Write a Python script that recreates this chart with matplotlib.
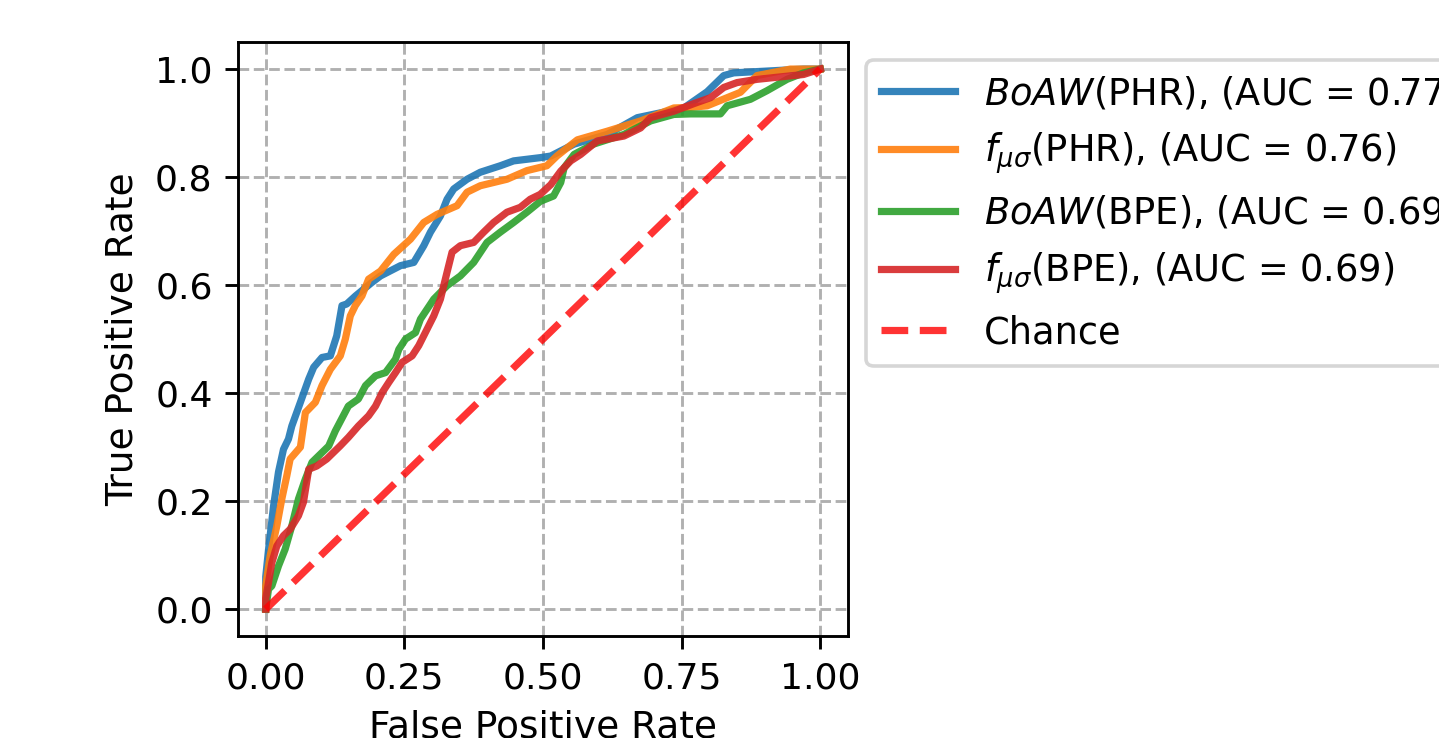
import numpy as np
import matplotlib
matplotlib.use('Agg')
import matplotlib.pyplot as plt

matplotlib.rc('font', size=10)
matplotlib.rc('axes', labelsize=10.4)
matplotlib.rc('legend', fontsize=10.2)
matplotlib.rc('lines', linewidth=2.0)

# ROC points (fpr, tpr)
boaw_phr_fpr = [0.0, 0.0, 0.005, 0.014, 0.023, 0.032, 0.041, 0.047, 0.0625, 0.0775, 0.0865, 0.1015,
                0.1165, 0.128, 0.1375, 0.146, 0.162, 0.1915, 0.207, 0.243, 0.267, 0.285, 0.297, 0.315,
                0.327, 0.339, 0.363, 0.387, 0.423, 0.447, 0.495, 0.514, 0.556, 0.616, 0.670, 0.754,
                0.796, 0.826, 0.844, 0.97, 1.0]
boaw_phr_tpr = [0.0, 0.06, 0.11, 0.19, 0.254, 0.296, 0.315, 0.339, 0.383, 0.426, 0.448, 0.466,
                0.469, 0.506, 0.562, 0.565, 0.58, 0.605, 0.617, 0.636, 0.642, 0.673, 0.698, 0.728,
                0.759, 0.778, 0.796, 0.809, 0.821, 0.830, 0.836, 0.839, 0.861, 0.879, 0.910, 0.928,
                0.958, 0.988, 0.993, 1.0, 1.0]

fmusig_phr_fpr = [0.0, 0.0, 0.008, 0.02, 0.029, 0.038, 0.044, 0.0625, 0.0715, 0.0895, 0.1015, 0.1165,
                  0.1345, 0.1435, 0.1525, 0.1615, 0.1735, 0.1855, 0.207, 0.231, 0.261, 0.285, 0.309,
                  0.345, 0.363, 0.387, 0.435, 0.471, 0.507, 0.525, 0.562, 0.616, 0.676, 0.736, 0.766,
                  0.796, 0.856, 0.886, 0.946, 1.0]
fmusig_phr_tpr = [0.0, 0.043, 0.099, 0.154, 0.204, 0.247, 0.278, 0.300, 0.364, 0.383, 0.414, 0.444,
                  0.469, 0.500, 0.543, 0.562, 0.580, 0.611, 0.626, 0.657, 0.685, 0.716, 0.731,
                  0.747, 0.772, 0.784, 0.796, 0.812, 0.821, 0.839, 0.869, 0.885, 0.904, 0.928, 0.929,
                  0.932, 0.957, 0.988, 1.0, 1.0]

boaw_bpe_fpr = [0.0, 0.005, 0.011, 0.023, 0.035, 0.047, 0.059, 0.0715, 0.0835, 0.1015, 0.1135, 0.1255,
                0.149, 0.167, 0.18, 0.198, 0.216, 0.234, 0.24, 0.252, 0.27, 0.279, 0.303, 0.327, 0.351,
                0.375, 0.399, 0.423, 0.447, 0.471, 0.495, 0.519, 0.532, 0.538, 0.556, 0.591, 0.646,
                0.694, 0.736, 0.766, 0.82, 0.832, 0.874, 0.904, 0.94, 0.97, 1.0]
boaw_bpe_tpr = [0.0, 0.037, 0.043, 0.08, 0.111, 0.154, 0.204, 0.241, 0.272, 0.29, 0.302, 0.33,
                0.376, 0.389, 0.414, 0.432, 0.438, 0.463, 0.481, 0.5, 0.512, 0.537, 0.574, 0.599, 0.617,
                0.642, 0.679, 0.698, 0.716, 0.735, 0.755, 0.765, 0.79, 0.817, 0.842, 0.861, 0.879,
                0.904, 0.916, 0.917, 0.917, 0.932, 0.944, 0.96, 0.981, 0.993, 1.0]

fmusig_bpe_fpr = [0.0, 0.0, 0.005, 0.011, 0.02, 0.032, 0.044, 0.059, 0.068, 0.0775, 0.092, 0.11,
                  0.122, 0.134, 0.149, 0.167, 0.1855, 0.198, 0.21, 0.222, 0.234, 0.246, 0.264, 0.276,
                  0.303, 0.315, 0.327, 0.336, 0.351, 0.375, 0.393, 0.411, 0.435, 0.459, 0.477, 0.495,
                  0.514, 0.532, 0.55, 0.568, 0.598, 0.646, 0.676, 0.694, 0.736, 0.772, 0.802, 0.826,
                  0.85, 0.886, 0.97, 1.0]
fmusig_bpe_tpr = [0.0, 0.02, 0.049, 0.086, 0.117, 0.136, 0.148, 0.173, 0.198, 0.259, 0.265, 0.278,
                  0.29, 0.302, 0.318, 0.339, 0.358, 0.376, 0.401, 0.42, 0.438, 0.457, 0.469, 0.488,
                  0.543, 0.574, 0.624, 0.661, 0.673, 0.679, 0.698, 0.716, 0.735, 0.744, 0.759, 0.768,
                  0.786, 0.811, 0.83, 0.842, 0.867, 0.876, 0.891, 0.91, 0.922, 0.936, 0.947, 0.966,
                  0.975, 0.981, 0.99, 1.0]

labels = [r'$BoAW$(PHR), (AUC = 0.77)',
          r'$f_{\mu\sigma}$(PHR), (AUC = 0.76)',
          r'$BoAW$(BPE), (AUC = 0.69)',
          r'$f_{\mu\sigma}$(BPE), (AUC = 0.69)']
colors = ['#1f77b4', '#ff7f0e', '#2ca02c', '#d62728']

dpi = 260
fig = plt.figure(figsize=(1439 / dpi, 738 / dpi), dpi=dpi)
ax = fig.add_axes([0.1654, 0.138, 0.4239, 0.805])

curves = [(boaw_phr_fpr, boaw_phr_tpr), (fmusig_phr_fpr, fmusig_phr_tpr),
          (boaw_bpe_fpr, boaw_bpe_tpr), (fmusig_bpe_fpr, fmusig_bpe_tpr)]
for (fpr, tpr), lab, c in zip(curves, labels, colors):
    ax.plot(fpr, tpr, color=c, lw=2, alpha=0.9, label=lab)

ax.plot([0, 1], [0, 1], linestyle='--', lw=2, color='r', alpha=0.8, label='Chance')

ax.grid(True, linestyle='--', color='#b0b0b0', lw=0.8)
ax.set_xticks([0.0, 0.25, 0.5, 0.75, 1.0])
ax.set_xlabel("False Positive Rate")
ax.set_ylabel("True Positive Rate")
# legend sits outside the axes and runs past the figure edge, as in the reference
ax.legend(loc='upper left', bbox_to_anchor=(1.0, 1.0))

fig.savefig('out.png', dpi=dpi)
